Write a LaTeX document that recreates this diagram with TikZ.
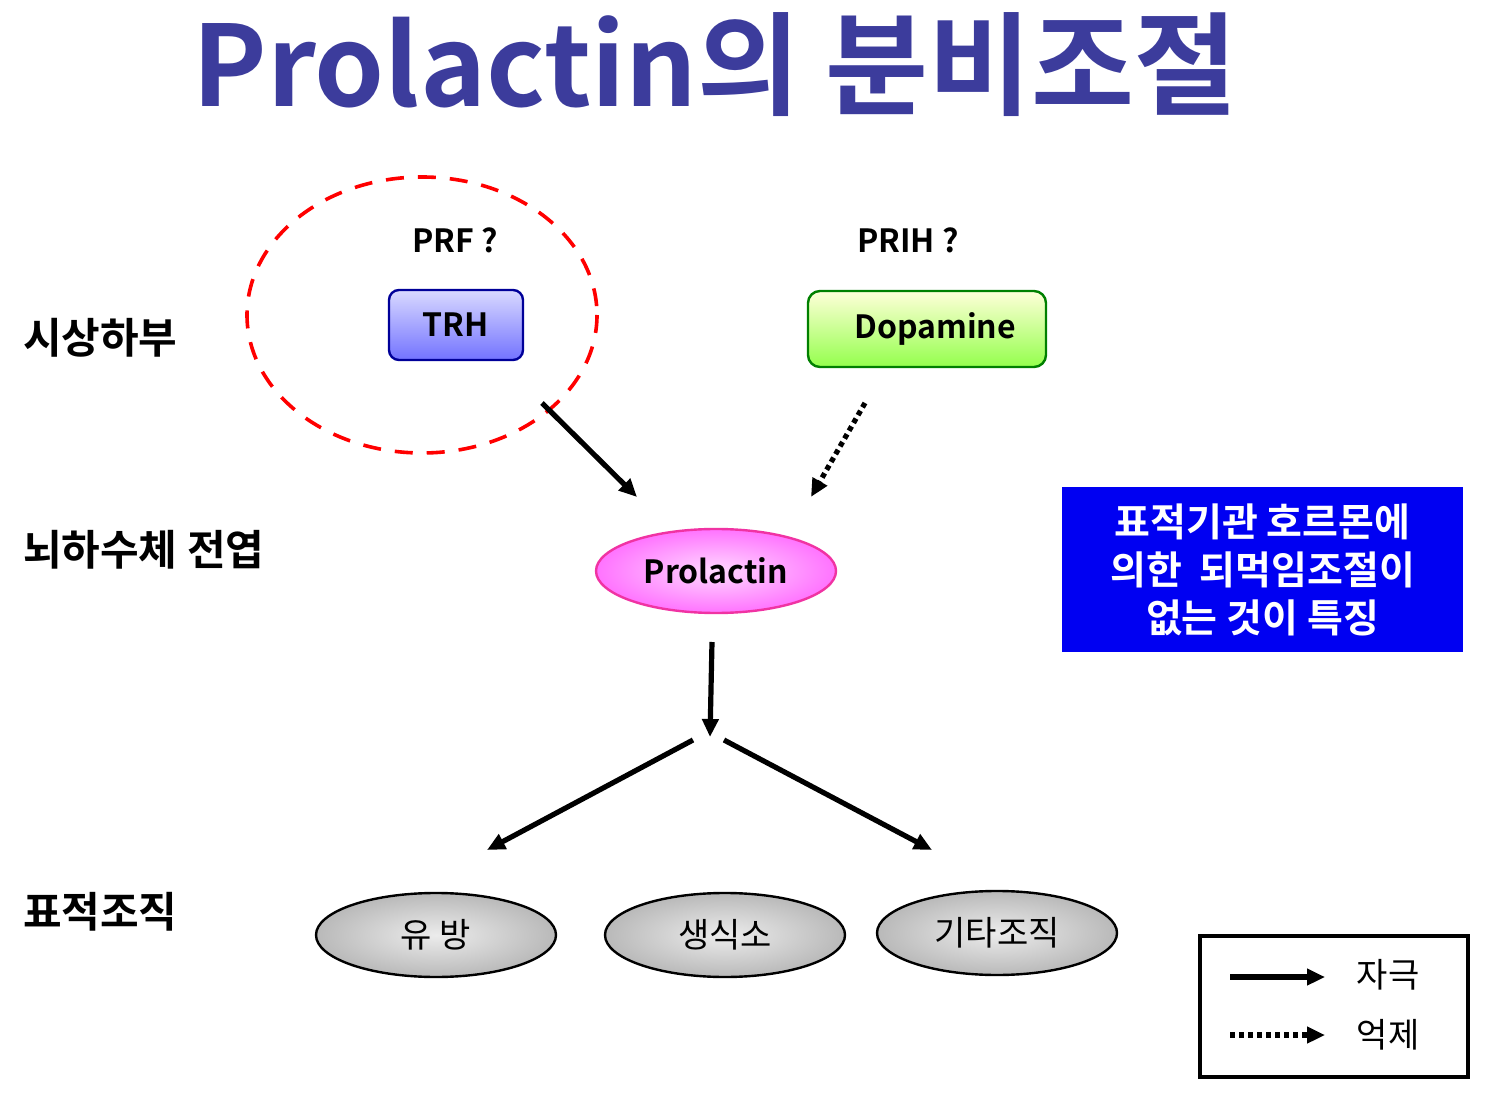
\documentclass[tikz,border=0pt]{standalone}
\usepackage{fontspec}
\setmainfont{Noto Sans CJK KR}
\newfontfamily\kr{Noto Sans CJK KR}
\newfontfamily\krb{Noto Sans CJK KR Bold}
\usetikzlibrary{arrows.meta,shapes.geometric,shadings}
\definecolor{titleblue}{HTML}{3C3C9C}
\begin{document}
\begin{tikzpicture}[x=0.5pt,y=-0.5pt,
  arr/.style={line width=2.6pt,-{Triangle[length=9pt,width=8pt]}},
  darr/.style={arr,dash pattern=on 2.5pt off 2pt},
  lab/.style={font=\krb\fontsize{21}{23}\selectfont},
  tgt/.style={ellipse,draw=black,line width=1.2pt,minimum width=120pt,minimum height=42pt,inner color=gray!15,outer color=gray!55,font=\kr\fontsize{17}{19}\selectfont}]
\useasboundingbox (0,0) rectangle (1500,1101);
\node[text=titleblue,font=\krb\fontsize{56}{58}\selectfont] (title) at (715,65) {Prolactin의 분비조절};
\draw[red,line width=1.8pt,dash pattern=on 9pt off 7pt] (422,315) ellipse [x radius=175,y radius=138];
\node[font=\krb\fontsize{16}{18}\selectfont] (prf) at (455,240) {PRF ?};
\node[font=\krb\fontsize{16}{18}\selectfont] (prih) at (908,240) {PRIH ?};
\node[draw=blue!60!black,line width=1.2pt,rounded corners=5pt,minimum width=67pt,minimum height=35pt,top color=blue!15,bottom color=blue!55,font=\krb\fontsize{16}{18}\selectfont] (trh) at (456,325) {TRH};
\node[draw=green!50!black,line width=1.2pt,rounded corners=6pt,minimum width=119pt,minimum height=38pt,top color=yellow!15,bottom color=green!60!yellow!70,font=\krb\fontsize{16}{18}\selectfont] (dop) at (927,329) {\hspace{8pt}Dopamine};
\node[ellipse,draw=magenta!80,line width=1.2pt,minimum width=120pt,minimum height=42pt,inner color=magenta!15,outer color=magenta!55,font=\krb\fontsize{16}{18}\selectfont] (prl) at (716,571) {Prolactin};
\coordinate (a1) at (542,403); \coordinate (a2) at (637,497);
\coordinate (b1) at (865,403); \coordinate (b2) at (811,497);
\coordinate (c1) at (712,642); \coordinate (c2) at (710,737);
\coordinate (d1) at (693,740); \coordinate (d2) at (487,850);
\coordinate (e1) at (724,740); \coordinate (e2) at (932,850);
\draw[arr] (a1) -- (a2);
\draw[darr] (b1) -- (b2);
\draw[arr] (c1) -- (c2);
\draw[arr] (d1) -- (d2);
\draw[arr] (e1) -- (e2);
\node[tgt] (t1) at (436,935) {유 방};
\node[tgt] (t2) at (725,935) {생식소};
\node[tgt] (t3) at (997,933) {기타조직};
\node[lab,anchor=west] (l1) at (16,338) {시상하부};
\node[lab,anchor=west] (l2) at (16,550) {뇌하수체 전엽};
\node[lab,anchor=west] (l3) at (16,912) {표적조직};
\node[fill=blue!95!black,minimum width=200.5pt,minimum height=82.5pt,text=white,align=center,font=\krb\fontsize{19.5}{24}\selectfont] (note) at (1262.5,569.5) {표적기관 호르몬에\\의한 ~되먹임조절이\\없는 것이 특징};
\node[draw=black,line width=1.6pt,minimum width=134pt,minimum height=70.5pt] (leg) at (1334,1006.5) {};
\coordinate (f1) at (1230,977); \coordinate (f2) at (1325,977);
\coordinate (g1) at (1230,1035); \coordinate (g2) at (1325,1035);
\draw[arr] (f1) -- (f2);
\draw[darr] (g1) -- (g2);
\node[font=\kr\fontsize{17}{19}\selectfont] (s1) at (1388,975) {자극};
\node[font=\kr\fontsize{17}{19}\selectfont] (s2) at (1388,1035) {억제};
\end{tikzpicture}
\end{document}
